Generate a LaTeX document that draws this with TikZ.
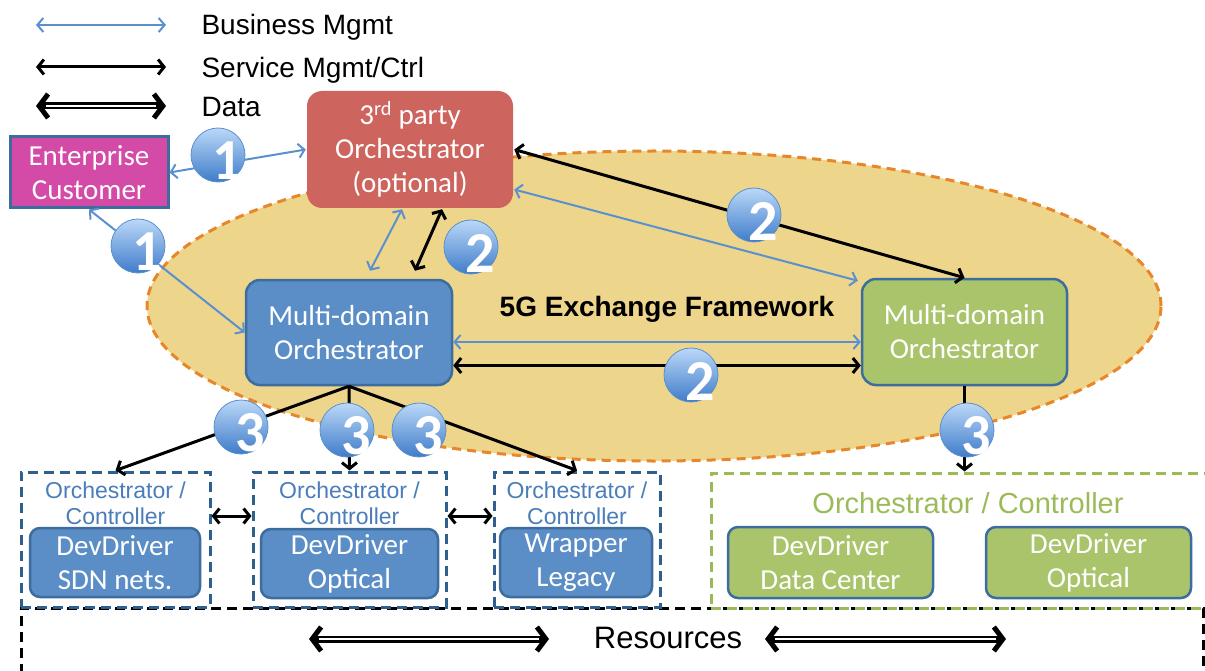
\documentclass[tikz,border=0pt]{standalone}
\usepackage{fontspec}
\setmainfont{Liberation Sans}
\newfontfamily\calibri{Carlito}
\usetikzlibrary{arrows.meta,calc,positioning,shapes.geometric}
\definecolor{bizblue}{HTML}{5A90CE}
\definecolor{mdblue}{HTML}{5B8EC6}
\definecolor{mdedge}{HTML}{3D6C9F}
\definecolor{mdgreen}{HTML}{A9C46A}
\definecolor{thirdred}{HTML}{CD645D}
\definecolor{entpink}{HTML}{D34AA7}
\definecolor{exfill}{HTML}{EDD68B}
\definecolor{exedge}{HTML}{E8862A}
\definecolor{ocblue}{HTML}{2E5F8E}
\definecolor{octext}{HTML}{4A7DBA}
\definecolor{ocgreen}{HTML}{9BBB59}
\definecolor{badgetop}{HTML}{BBD8F8}
\definecolor{badgebot}{HTML}{3F7CC9}
\tikzset{box/.style={
                     % The shape:
                     rectangle,rounded corners=10pt,inner sep=0pt,
                     % The rest
                     line width=2.5pt,text=white,align=center,
                     font=\calibri\fontsize{29}{34}\selectfont
                     },
         bluebox/.style={box,fill=mdblue,draw=mdedge},
         greenbox/.style={box,fill=mdgreen,draw=mdedge},
         ocbox/.style={rectangle,line width=3pt,dash pattern=on 10pt off 6pt},
         oclabel/.style={align=center,text=octext,font=\fontsize{23}{26}\selectfont},
         bizlink/.style={draw=bizblue,line width=2pt,
                         {Straight Barb[length=6pt,width=14pt]}-{Straight Barb[length=6pt,width=14pt]}},
         svclink/.style={draw=black,line width=3pt,
                         {Straight Barb[length=6pt,width=15pt]}-{Straight Barb[length=6pt,width=15pt]}},
         datalink/.style={draw=black,line width=7pt,
                          {Straight Barb[length=9pt,width=24pt,line width=5pt]}-{Straight Barb[length=9pt,width=24pt,line width=5pt]},
                          postaction={draw=white,line width=2pt,-,shorten >=10pt,shorten <=10pt}},
         fanlink/.style={draw=black,line width=3pt,-{Straight Barb[length=6pt,width=15pt]}},
         badgenum/.style={text=white,inner sep=0pt,xshift=9pt,yshift=-6pt,
                          font=\calibri\bfseries\fontsize{58}{58}\selectfont},
         badge/.style={circle,minimum size=54pt,inner sep=0pt,
                       draw=bizblue,line width=0.8pt,
                       top color=badgetop,bottom color=badgebot,
                       label={[badgenum]center:#1}}
        }

\begin{document}
\begin{tikzpicture}[x=1pt,y=-1pt]
  \useasboundingbox (0,0) rectangle (1205,671);
  \clip (0,0) rectangle (1205,671);

  % Exchange framework
  \node (exch) [ellipse,minimum width=1014pt,minimum height=310pt,
                fill=exfill,draw=exedge,line width=3pt,dash pattern=on 9pt off 6pt] at (654,306) {};
  \node (exchLbl) [font=\bfseries\fontsize{28}{32}\selectfont] at (667,309) {5G Exchange Framework};

  % Legend
  \coordinate (lgBiz1) at (36,25);  \coordinate (lgBiz2) at (166,25);
  \coordinate (lgSvc1) at (36,67);  \coordinate (lgSvc2) at (166,67);
  \coordinate (lgDat1) at (36,106); \coordinate (lgDat2) at (166,106);
  \draw [bizlink] (lgBiz1) -- (lgBiz2);
  \draw [svclink] (lgSvc1) -- (lgSvc2);
  \draw [datalink] (lgDat1) -- (lgDat2);
  \node (lgBizLbl) [anchor=west,font=\fontsize{28}{30}\selectfont] at (198,27) {Business Mgmt};
  \node (lgSvcLbl) [anchor=west,font=\fontsize{28}{30}\selectfont] at (198,70) {Service Mgmt/Ctrl};
  \node (lgDatLbl) [anchor=west,font=\fontsize{28}{30}\selectfont] at (198,107) {Data};

  % Orchestrators
  \node (ent) [box,rounded corners=0pt,fill=entpink,draw=mdedge,line width=3pt,
               minimum width=158pt,minimum height=71pt] at (89,172.5) {Enterprise\\Customer};
  \node (third) [box,rounded corners=15pt,fill=thirdred,
                 minimum width=206pt,minimum height=117pt] at (410,149.5) {3\textsuperscript{rd} party\\Orchestrator\\(optional)};
  \node (mdoL) [bluebox,rounded corners=14pt,minimum width=206pt,minimum height=105pt] at (349,332.5) {Multi-domain\\Orchestrator};
  \node (mdoR) [greenbox,rounded corners=14pt,minimum width=205pt,minimum height=106pt] at (964.5,332) {Multi-domain\\Orchestrator};

  % Domains
  \node (res) [ocbox,draw=black,minimum width=1182pt,minimum height=92pt] at (612,654) {};
  \node (resLbl) [font=\fontsize{31}{34}\selectfont] at (668,638) {Resources};
  \node (ocG) [ocbox,draw=ocgreen,minimum width=504pt,minimum height=135pt] at (963,540.5) {};
  \node (ocA) [ocbox,draw=ocblue,fill=white,minimum width=189pt,minimum height=135pt] at (115.5,539.5) {};
  \node (ocB) [ocbox,draw=ocblue,fill=white,minimum width=193pt,minimum height=135pt] at (349.5,539.5) {};
  \node (ocC) [ocbox,draw=ocblue,fill=white,minimum width=166pt,minimum height=135pt] at (577,539.5) {};
  \node (ocALbl) [oclabel] at (115.5,503) {Orchestrator /\\Controller};
  \node (ocBLbl) [oclabel] at (349.5,503) {Orchestrator /\\Controller};
  \node (ocCLbl) [oclabel] at (577,503) {Orchestrator /\\Controller};
  \node (ocGLbl) [oclabel,text=ocgreen,font=\fontsize{29}{32}\selectfont] at (968,503) {Orchestrator / Controller};

  \node (drvSDN) [bluebox,minimum width=170pt,minimum height=69pt] at (115,562.5) {DevDriver\\SDN nets.};
  \node (drvOptA) [bluebox,minimum width=177pt,minimum height=69pt] at (349.5,563.5) {DevDriver\\Optical};
  \node (drvLegacy) [bluebox,minimum width=152pt,minimum height=69pt] at (576,562.5) {Wrapper\\Legacy};
  \node (drvDC) [greenbox,minimum width=205pt,minimum height=71pt] at (830.5,562.5) {DevDriver\\Data Center};
  \node (drvOptB) [greenbox,minimum width=205pt,minimum height=71pt] at (1088.5,562.5) {DevDriver\\Optical};

  % Business Mgmt
  \draw [bizlink] (ent.east) -- (third.west);
  \draw [bizlink] (ent.south) -- (mdoL.west);
  \draw [bizlink] ($(third.south)+(-8,0)$) -- ($(mdoL.north)+(21,-8)$);
  \draw [bizlink] ($(third.east)+(0,40)$) -- ($(mdoR.north west)+(-3,3)$);
  \draw [bizlink] ($(mdoL.east)+(0,9.5)$) -- ($(mdoR.west)+(0,10)$);

  % Service Mgmt/Ctrl
  \draw [svclink] ($(third.south)+(32,0)$) -- ($(mdoL.north)+(66,-8)$);
  \draw [svclink] (third.east) -- (mdoR.north);
  \draw [svclink] ($(mdoL.east)+(0,33)$) -- ($(mdoR.west)+(0,33.5)$);
  \draw [fanlink] (mdoL.south) -- (ocA.north);
  \draw [fanlink] (mdoL.south) -- (ocB.north);
  \draw [fanlink] (mdoL.south) -- (ocC.north);
  \draw [fanlink] (mdoR.south) -- (mdoR.south |- ocG.north);
  \draw [svclink] ($(ocA.east)+(0,-23.5)$) -- ($(ocB.west)+(0,-23.5)$);
  \draw [svclink] ($(ocB.east)+(0,-23.5)$) -- ($(ocC.west)+(0,-23.5)$);

  % Data
  \coordinate (datA1) at (309,639); \coordinate (datA2) at (549,639);
  \coordinate (datB1) at (765,639); \coordinate (datB2) at (1006,639);
  \draw [datalink] (datA1) -- (datA2);
  \draw [datalink] (datB1) -- (datB2);

  % Badges
  \node (b1a) [badge=1] at (218,155) {};
  \node (b1b) [badge=1] at (138,246) {};
  \node (b2a) [badge=2] at (471,247) {};
  \node (b2b) [badge=2] at (754,215) {};
  \node (b2c) [badge=2] at (691,375) {};
  \node (b3a) [badge=3] at (241,427) {};
  \node (b3b) [badge=3] at (347,430) {};
  \node (b3c) [badge=3] at (419,430) {};
  \node (b3d) [badge=3] at (967,430) {};
\end{tikzpicture}
\end{document}
